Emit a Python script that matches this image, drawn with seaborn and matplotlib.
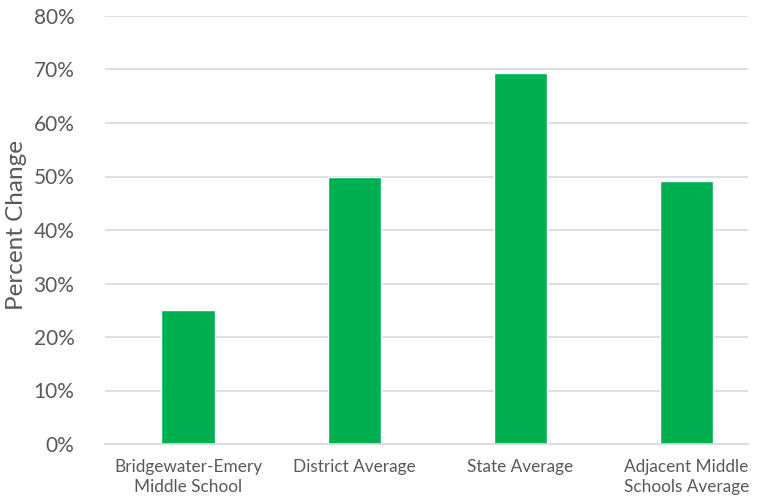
import matplotlib
matplotlib.use("Agg")
import matplotlib.pyplot as plt
import seaborn as sns
import pandas as pd
from matplotlib.ticker import PercentFormatter

categories = ["Bridgewater-Emery\nMiddle School", "District Average",
              "State Average", "Adjacent Middle\nSchools Average"]
values = [25.0, 50.0, 69.3, 49.2]
y_ticks = [0, 10, 20, 30, 40, 50, 60, 70, 80]

df = pd.DataFrame({"category": categories, "change": values})

sns.set_theme(style="white")
plt.rcParams["font.family"] = ["Lato", "DejaVu Sans"]

fig = plt.figure(figsize=(7.61, 5.0), dpi=100)
ax = fig.add_axes([105 / 761, 1 - 444 / 500, (748 - 105) / 761, (444 - 16) / 500])

sns.barplot(data=df, x="category", y="change", color="#00B050",
            saturation=1, width=0.32, ax=ax)

ax.set_xlim(-0.5, 3.37)
ax.set_ylim(0, 80)
ax.set_yticks(y_ticks)
ax.yaxis.set_major_formatter(PercentFormatter(decimals=0))
ax.grid(axis="y", color="#D9D9D9", linewidth=1.2)
ax.set_axisbelow(True)
for side in ["top", "right", "left"]:
    ax.spines[side].set_visible(False)
ax.spines["bottom"].set_color("#D9D9D9")
ax.spines["bottom"].set_linewidth(1.2)

ax.tick_params(axis="y", length=0, pad=22, labelsize=15, labelcolor="#595959")
ax.tick_params(axis="x", length=0, pad=11, labelsize=12.4, labelcolor="#595959")
for lbl in ax.get_xticklabels():
    lbl.set_linespacing(1.25)
ax.set_xlabel("")
ax.set_ylabel("")
fig.text(17 / 761, 1 - 225 / 500, "Percent Change", rotation=90,
         ha="center", va="center", fontsize=17.5, color="#595959")

fig.savefig("out.png", dpi=100)
